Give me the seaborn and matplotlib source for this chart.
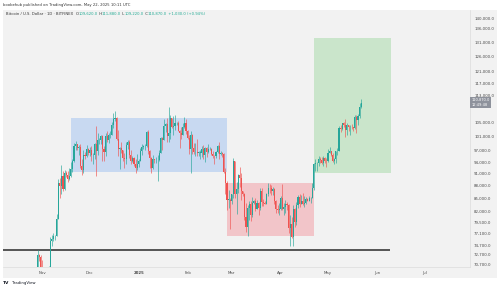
import pandas as pd
import matplotlib.pyplot as plt
import matplotlib.dates as mdates
from matplotlib.patches import Rectangle
from matplotlib.transforms import blended_transform_factory
import seaborn as sns

# daily BTC/USD candles, Oct 28 2024 -> May 22 2025
first_open = 67900
closes = [
    69900, 72700, 72300, 70200,  # oct
    69500, 69300, 68700, 67800, 69400, 75600, 75900, 76500, 76700, 80400,
    88700, 87900, 90500, 87300, 91100, 90600, 89800, 90500, 92300, 94300,
    98400, 98900, 97700, 98000, 93100, 91900, 95900, 95600, 97500, 96400,  # nov
    97200, 95900, 96000, 98800, 97000, 99900, 99900, 101200, 97400, 96700,
    101200, 100000, 101400, 101400, 104300, 106000, 106100, 100200, 97500, 97800,
    97200, 95100, 94700, 98700, 99400, 95800, 94200, 95200, 93600, 92600, 93400,  # dec
    94400, 96900, 98100, 98200, 98300, 102100, 96900, 95000, 92500, 94700,
    94500, 94500, 94500, 96500, 100500, 99900, 104000, 104400, 101000, 102000,
    106100, 103600, 103900, 104700, 104700, 102600, 102000, 101300, 103700, 104700, 102400,  # jan
    100600, 97600, 101400, 97800, 96600, 96600, 96500, 96500, 96500, 97400,
    95800, 97800, 96600, 97500, 97600, 96100, 95700, 95500, 96600, 98300,
    96100, 96500, 96100, 91500, 88700, 84700, 84700, 84400,  # feb
    86000, 94300, 86100, 87200, 90600, 89900, 86700, 86100, 80700, 78500,
    82900, 83700, 81100, 84000, 84300, 82600, 84000, 82700, 86800, 84200,
    84000, 83800, 86100, 87500, 87400, 86900, 87200, 84400, 82600, 82300, 82500,  # mar
    85100, 82500, 83100, 83800, 83500, 78400, 79100, 76300, 82600, 79600,
    83400, 85300, 83700, 84500, 83600, 84000, 84900, 84500, 85100, 85200,
    87500, 93400, 93700, 93900, 94700, 94600, 93800, 95000, 94300, 94200,  # apr
    96500, 96900, 95900, 94300, 94800, 96900, 97000, 103200, 103000, 104700,
    104200, 102800, 104100, 103500, 103700, 103500, 103200, 106500, 105600, 106800,
    109620, 110870,  # may
]
highs = [
    70300, 73600, 72900, 72700,
    71600, 69900, 69400, 69500, 70500, 76400, 76900, 77200, 76900, 81500,
    89600, 89900, 93300, 91800, 91900, 91800, 91700, 92600, 94000, 94900,
    99000, 99600, 98900, 98600, 98900, 94800, 97300, 96600, 98700, 97800,
    97900, 98200, 96300, 99000, 103900, 101900, 100500, 101400, 101300, 98300,
    101900, 102500, 101900, 102600, 105200, 107800, 108300, 106500, 102800, 98100,
    99500, 97300, 96400, 99400, 99900, 99900, 97300, 95500, 95300, 94900, 96100,
    94900, 97800, 98900, 98700, 98800, 102500, 102700, 97200, 95300, 95800,
    94900, 95400, 95900, 97300, 100700, 100800, 105900, 104900, 106300, 109600,
    107200, 106300, 106800, 107100, 105200, 105500, 102700, 103700, 104800, 106400, 106000,
    102700, 101400, 102500, 101700, 99000, 99200, 100100, 96900, 97300, 98300,
    98500, 98100, 98000, 98800, 97900, 97700, 97000, 96000, 96900, 98700,
    99500, 96900, 96600, 96500, 92500, 89300, 87000, 85000,
    86100, 95000, 94400, 88900, 91000, 92800, 91300, 86900, 86400, 83900,
    83500, 84300, 84300, 85300, 84700, 85000, 84700, 84100, 87400, 87400,
    84800, 84500, 86200, 88700, 88500, 88300, 87800, 87500, 84600, 83500, 83900,
    85500, 88500, 83900, 84700, 84200, 83800, 81200, 80800, 83500, 82700,
    84200, 85800, 86100, 85800, 86400, 85500, 85400, 85100, 85600, 85300,
    88800, 93800, 94700, 94000, 95700, 95300, 95300, 95600, 95400, 95200,
    97400, 97900, 97000, 96300, 95200, 97000, 97700, 104000, 104300, 104900,
    105000, 105800, 104900, 104300, 104100, 104500, 103700, 107000, 107100, 107300,
    110700, 111880,
]
lows = [
    67600, 69700, 71500, 69700,
    68800, 69100, 67500, 66800, 67500, 69300, 74500, 75600, 75800, 76500,
    80200, 85100, 86100, 86700, 87100, 90100, 88900, 89400, 90300, 91500,
    94100, 97200, 97200, 95800, 92600, 90800, 91200, 94700, 95400, 95900,
    95700, 94400, 93600, 94700, 90500, 95900, 98900, 98800, 94200, 94300,
    95700, 99300, 99200, 100600, 101300, 103300, 105300, 100000, 95700, 92200,
    96400, 94200, 92400, 93400, 97600, 95200, 93500, 94000, 93100, 91300, 92000,
    92800, 94200, 96000, 97500, 97300, 97900, 96100, 92500, 91200, 92200,
    93800, 93700, 89200, 94300, 96500, 97300, 99900, 102300, 99500, 99500,
    100100, 103300, 101300, 102800, 104200, 102500, 97800, 100300, 101300, 103400, 101600,
    100300, 96200, 91200, 96200, 96200, 95700, 95700, 95700, 94700, 95300,
    94900, 94100, 95300, 96400, 97300, 96000, 95200, 93400, 95000, 96400,
    94900, 96000, 95300, 91300, 86100, 82300, 82800, 78200,
    83800, 85100, 85100, 81500, 86400, 87800, 84700, 85700, 80100, 77400,
    76600, 80100, 79900, 80800, 83700, 82100, 82500, 81200, 82300, 83200,
    83200, 83700, 83700, 85600, 86300, 85900, 85800, 83600, 81700, 81600, 81300,
    82400, 82300, 81200, 81700, 82400, 77200, 74600, 76200, 74600, 78500,
    78900, 82800, 83000, 83700, 83500, 83100, 83800, 84300, 84300, 83900,
    85100, 87000, 91800, 91700, 92900, 93900, 93600, 92900, 93800, 92800,
    94100, 96300, 95700, 94100, 93500, 93900, 95800, 96900, 102300, 102900,
    103500, 100700, 101400, 102600, 101400, 103100, 102600, 103100, 102000, 104300,
    106100, 109220,
]

# drawn zones: (start, end, low, high)
blue_zone = ("2024-11-19", "2025-02-26", 91550, 106300)
red_zone = ("2025-02-26", "2025-04-22", 76700, 88800)
green_zone = ("2025-04-22", "2025-06-10", 91200, 132700)
support_level = 73700
support_span = ("2024-10-07", "2025-06-09")

price_ticks = [70700, 72700, 74700, 77100, 79500, 82000, 85000, 88000, 91000, 94000,
               97000, 101000, 105000, 113000, 117000, 121000, 126000, 131000, 136000, 140000]
month_ticks = ["2024-11-01", "2024-12-01", "2025-01-01", "2025-02-01", "2025-03-01",
               "2025-04-01", "2025-05-01", "2025-06-01", "2025-07-01"]
month_labels = ["Nov", "Dec", "2025", "Feb", "Mar", "Apr", "May", "Jun", "Jul"]

df = pd.DataFrame({
    "date": pd.date_range("2024-10-28", "2025-05-22", freq="D"),
    "high": highs,
    "low": lows,
    "close": closes,
})
df["open"] = [first_open] + closes[:-1]
df["x"] = mdates.date2num(df["date"])
up = df["close"] >= df["open"]

GREEN = "#26a69a"
RED = "#ef5350"
TEAL_TXT = "#22ab94"

sns.set_theme(style="white")
plt.rcParams["font.family"] = ["DejaVu Sans"]

fig = plt.figure(figsize=(5, 2.88), dpi=100)
fig.patch.set_facecolor("white")
# grey chart panel behind everything
fig.patches.append(Rectangle((3 / 500, 10 / 288), 494 / 500, 268 / 288,
                             transform=fig.transFigure, facecolor="#f2f2f2",
                             edgecolor="none", zorder=-5))

ax = fig.add_axes([3 / 500, 21 / 288, 467 / 500, 257 / 288])
ax.set_facecolor("#f2f2f2")
ax.set_yscale("log")

for (s, e, lo, hi), col in [(blue_zone, "#c8d9f1"), (red_zone, "#f2c5c9"), (green_zone, "#cae5cb")]:
    ax.fill_between(pd.to_datetime([s, e]), lo, hi, color=col, lw=0, zorder=1)

ax.hlines(support_level, pd.Timestamp(support_span[0]), pd.Timestamp(support_span[1]),
          color="#3a3a3a", lw=1.2, zorder=2)

colors = [GREEN if u else RED for u in up]
ax.vlines(df["x"], df["low"], df["high"], colors=colors, lw=0.45, zorder=3)
body_lo = df[["open", "close"]].min(axis=1)
body_h = (df["close"] - df["open"]).abs().clip(lower=80)
ax.bar(df["x"], body_h, bottom=body_lo, width=0.7, color=colors, lw=0, zorder=4)

ax.set_xlim(pd.Timestamp("2024-10-07"), pd.Timestamp("2025-07-30"))
ax.set_ylim(70300, 143300)

ax.yaxis.tick_right()
ax.set_yticks(price_ticks)
ax.set_yticklabels([f"{v:,.1f}" for v in price_ticks])
ax.yaxis.set_minor_locator(plt.NullLocator())
ax.set_xticks(pd.to_datetime(month_ticks))
ax.set_xticklabels(month_labels)
ax.tick_params(axis="both", length=0, labelsize=2.8, colors="#4a4a4a", pad=3)
for lab in ax.get_xticklabels():
    if lab.get_text() == "2025":
        lab.set_fontweight("bold")
ax.set_xlabel("")
ax.set_ylabel("")
ax.grid(False)
for side in ["top", "left"]:
    ax.spines[side].set_visible(False)
for side in ["right", "bottom"]:
    ax.spines[side].set_color("#dcdcdc")
    ax.spines[side].set_linewidth(0.5)

# last price tag on the scale
last = df.iloc[-1]
tr = blended_transform_factory(ax.transAxes, ax.transData)
ax.text(1.003, last["close"], f"{last['close']:,.1f}\n12:49:48", transform=tr,
        fontsize=2.6, color="white", ha="left", va="center", linespacing=1.1,
        bbox=dict(boxstyle="square,pad=0.35", fc="#8e929c", ec="none"), zorder=6)

# header lines
fig.text(3 / 500, 1 - 5 / 288, "boobehub published on TradingView.com, May 22, 2025 10:11 UTC",
         fontsize=2.7, color="#333333", va="center")

pieces = [("Bitcoin / U.S. Dollar · 1D · BITFINEX  ", "#333333"),
          ("O", "#333333"), (f"{last['open']:,.1f}", TEAL_TXT),
          (" H", "#333333"), (f"{last['high']:,.1f}", TEAL_TXT),
          (" L", "#333333"), (f"{last['low']:,.1f}", TEAL_TXT),
          (" C", "#333333"), (f"{last['close']:,.1f}", TEAL_TXT),
          (" +1,030.0 (+0.94%)", TEAL_TXT)]
prev = ax.text(6 / 500, 1 - 14 / 288, pieces[0][0], transform=fig.transFigure,
               fontsize=2.7, color=pieces[0][1], va="center", zorder=7)
for txt, col in pieces[1:]:
    prev = ax.annotate(txt, xy=(1, 0), xycoords=prev, va="bottom", ha="left",
                       fontsize=2.7, color=col, annotation_clip=False, zorder=7)

# footer logo
fig.text(3 / 500, 1 - 283 / 288, "TV", fontsize=3.2, fontweight="bold", color="#131722", va="center")
fig.text(12 / 500, 1 - 283 / 288, "TradingView", fontsize=2.8, color="#131722", va="center")

fig.savefig("out.png", dpi=100, facecolor=fig.get_facecolor())
